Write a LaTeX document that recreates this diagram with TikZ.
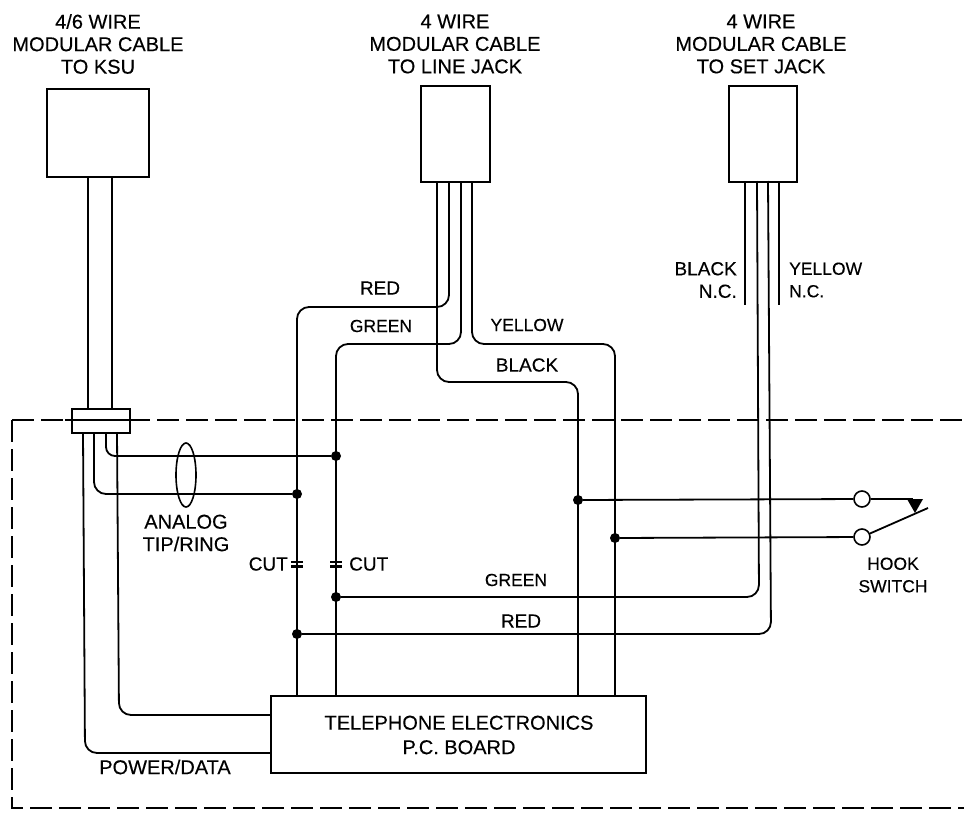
\documentclass[tikz,border=0pt]{standalone}
\usepackage{fontspec}
\setmainfont[FakeBold=0.3]{Liberation Sans}
\begin{document}
\begin{tikzpicture}[x=1pt,y=-1pt,
  wire/.style={line width=1.8pt,rounded corners=12pt},
  boxy/.style={draw,line width=1.9pt,inner sep=0pt,anchor=north west},
  dot/.style={circle,fill=black,inner sep=0pt,minimum size=10pt},
  term/.style={circle,draw,fill=white,line width=1.6pt,inner sep=0pt,minimum size=16pt},
  frame/.style={line width=1.8pt,dash pattern=on 22pt off 7pt},
  lab/.style={font=\fontsize{19}{17.5}\selectfont,inner sep=0pt,align=center},
  labbig/.style={lab,font=\fontsize{20}{17.5}\selectfont},
  labsm/.style={lab,font=\fontsize{17.5}{17.5}\selectfont}]
\useasboundingbox (0,0) rectangle (964,814);
% frame
\coordinate (fa) at (964,420);\coordinate (fb) at (12,420);\coordinate (fc) at (12,808);\coordinate (fd) at (964,808);
\draw[frame] (fb) -- (fa);
\draw[frame] (fb) -- (fc) -- (fd);
% boxes
\node[boxy,minimum width=102pt,minimum height=88pt] (ksu) at (46,88) {};
\node[boxy,minimum width=69pt,minimum height=96pt] (line) at (420,85) {};
\node[boxy,minimum width=68pt,minimum height=96pt] (set) at (728,85) {};
\node[boxy,minimum width=375pt,minimum height=77pt] (pcb) at (270,695) {};
\node[boxy,minimum width=58pt,minimum height=24pt] (grom) at (71,408) {};
% cable into grommet
\draw[wire] (88,176) -- (88,408);
\draw[wire] (112,176) -- (112,408);
\draw[line width=2pt] (65,420) -- (135,420);
% junction dots
\node[dot] (j1) at (336,456) {};
\node[dot] (j2) at (297,494) {};
\node[dot] (j3) at (578,500) {};
\node[dot] (j4) at (615,538) {};
\node[dot] (j5) at (336,597) {};
\node[dot] (j6) at (297,634) {};
% hook switch
\node[term] (t1) at (862,499) {};
\node[term] (t2) at (862,537) {};
\coordinate (c1) at (907,499);
\coordinate (armend) at (928,508);
% wires from the KSU grommet
\draw[wire] (83,432) -- (85,753) -- (270,753);
\draw[wire] (117,432) -- (119,715) -- (270,715);
\draw[wire] (94,432) -- (94,494) -- (j2);
\draw[wire,rounded corners=9pt] (106,432) -- (106,456) -- (j1);
% ellipse
\draw[line width=1.6pt] (186,475) ellipse [x radius=10,y radius=32];
% line jack wires
\draw[wire] (437,181) -- (437,382) -- (578,382) -- (578,695);
\draw[wire] (449,181) -- (449,307) -- (297,307) -- (297,695);
\draw[wire] (461,181) -- (461,344) -- (336,344) -- (336,695);
\draw[wire] (472,181) -- (472,344) -- (615,344) -- (615,695);
% set jack wires
\coordinate (e1) at (745,305);
\coordinate (e2) at (779,305);
\draw[wire] (745,181) -- (e1);
\draw[wire] (779,181) -- (e2);
\draw[wire] (757,181) -- (759,597) -- (j5);
\draw[wire] (768,181) -- (771,634) -- (j6);
% hook lines
\draw[wire] (j3) -- (t1);
\draw[wire] (j4) -- (t2);
\draw[wire] (t1) -- (913,499);
\draw[wire] (t2) -- (armend);
\fill (c1) -- (923,499) -- (915,513) -- cycle;
% cuts
\draw[line width=2.6pt] (291,562) -- (303,562) (291,566.5) -- (303,566.5);
\draw[line width=2.6pt] (330,562) -- (342,562) (330,566.5) -- (342,566.5);
% labels
\node[labbig] (l1) at (98,44) {4/6 WIRE\\[5pt]MODULAR CABLE\\[5pt]TO KSU};
\node[labbig] (l2) at (455,44) {4 WIRE\\[5pt]MODULAR CABLE\\[5pt]TO LINE JACK};
\node[labbig] (l3) at (761,44) {4 WIRE\\[5pt]MODULAR CABLE\\[5pt]TO SET JACK};
\node[lab] (l4) at (380,288) {RED};
\node[labsm] (l5) at (381,326) {GREEN};
\node[labsm] (l6) at (527,325) {YELLOW};
\node[lab] (l7) at (527,365) {BLACK};
\node[lab,align=right,anchor=east] (l8) at (737,280) {BLACK\\[5pt]N.C.};
\node[labsm,align=left,anchor=west] (l9) at (789,280) {YELLOW\\[5pt]N.C.};
\node[labbig] (l10) at (186,533) {ANALOG\\[5pt]TIP/RING};
\node[lab,anchor=east] (l11) at (288,564) {CUT};
\node[lab,anchor=west] (l12) at (349,564) {CUT};
\node[labsm] (l13) at (516,580) {GREEN};
\node[lab] (l14) at (521,621) {RED};
\node[labsm] (l15) at (893,575) {HOOK\\[5pt]SWITCH};
\node[labbig] (l16) at (459,735) {TELEPHONE ELECTRONICS\\[7pt]P.C. BOARD};
\node[labbig] (l17) at (165,767) {POWER/DATA};
\end{tikzpicture}
\end{document}
